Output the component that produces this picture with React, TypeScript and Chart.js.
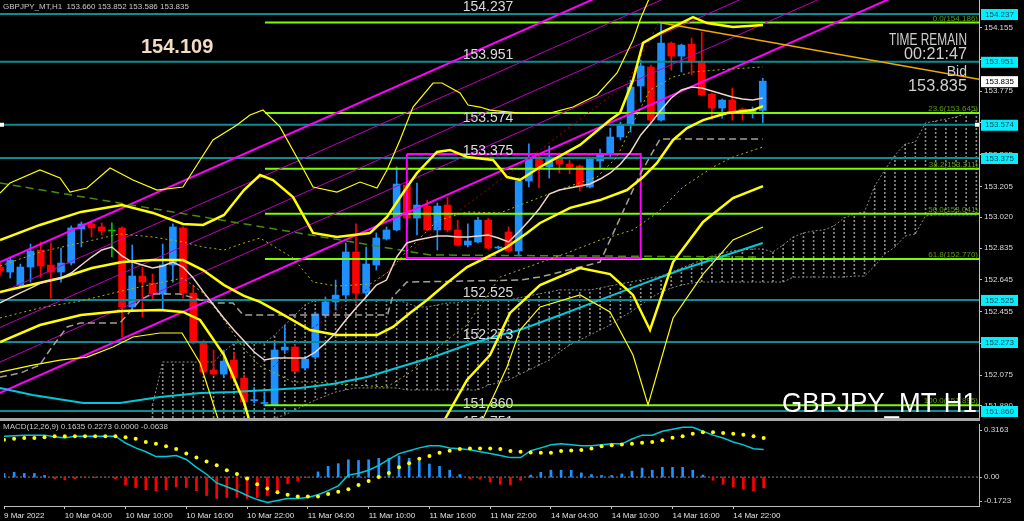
import React, { useEffect, useRef } from "react";
import { Chart, registerables } from "chart.js";

Chart.register(...registerables);
Chart.defaults.font.family = '"Liberation Sans", Arial, sans-serif';

// ---------- axis data ----------
const xTickIndex = [0, 6, 12, 18, 24, 30, 36, 42, 48, 54, 60, 66, 72];
const xTickLabels = [
  "9 Mar 2022", "10 Mar 04:00", "10 Mar 10:00", "10 Mar 16:00", "10 Mar 22:00",
  "11 Mar 04:00", "11 Mar 10:00", "11 Mar 16:00", "11 Mar 22:00",
  "14 Mar 04:00", "14 Mar 10:00", "14 Mar 16:00", "14 Mar 22:00",
];
const priceTicks = [154.155, 153.965, 153.775, 153.585, 153.395, 153.205, 153.02, 152.835, 152.645, 152.455, 152.265, 152.075, 151.89];
const X_MIN = 0;
const X_MAX = 96.26;
const Y_MIN = 151.818;
const Y_MAX = 154.321;

// ---------- candles (H1) ----------
const opens = [152.722,152.692,152.614,152.722,152.824,152.734,152.692,152.746,152.950,152.980,152.962,152.938,152.956,152.483,152.668,152.626,152.560,152.734,152.956,152.566,152.267,152.105,152.081,152.165,152.057,151.922,151.905,151.896,152.225,152.243,152.117,152.183,152.435,152.513,152.554,152.812,152.566,152.734,152.890,152.944,153.213,153.015,153.087,152.944,153.093,152.944,152.854,152.872,153.003,152.836,152.932,152.818,153.237,153.369,153.321,153.375,153.339,153.327,153.201,153.357,153.399,153.501,153.572,153.806,153.920,153.602,154.063,153.985,154.057,153.950,153.758,153.674,153.722,153.668,153.650,153.660];
const highs = [152.746,152.782,152.740,152.860,152.872,152.866,152.836,152.968,152.992,152.992,152.986,152.986,152.962,152.854,152.722,152.680,152.860,152.980,152.962,152.614,152.285,152.225,152.225,152.213,152.075,152.000,151.968,152.267,152.369,152.255,152.189,152.453,152.543,152.644,152.866,152.980,152.842,152.926,152.962,153.321,153.225,153.225,153.123,153.105,153.141,153.003,152.980,153.021,153.015,152.848,152.962,153.255,153.459,153.393,153.447,153.405,153.363,153.333,153.375,153.429,153.554,153.590,153.842,153.962,153.932,154.183,154.069,154.057,154.093,154.129,153.764,153.728,153.794,153.674,153.680,153.852];
const lows = [152.674,152.656,152.602,152.632,152.662,152.536,152.632,152.734,152.842,152.902,152.914,152.782,152.303,152.471,152.423,152.524,152.465,152.632,152.536,152.261,152.081,152.075,152.063,152.045,151.908,151.908,151.890,151.895,152.213,152.093,152.105,152.171,152.423,152.465,152.524,152.506,152.543,152.704,152.884,152.938,152.962,152.914,152.938,152.824,152.932,152.848,152.842,152.866,152.830,152.830,152.812,152.788,153.201,153.195,153.255,153.285,153.279,153.177,153.195,153.315,153.381,153.483,153.530,153.710,153.584,153.596,153.902,153.890,153.872,153.746,153.608,153.614,153.602,153.602,153.614,153.586];
const closes = [152.698,152.764,152.722,152.818,152.728,152.692,152.746,152.956,152.980,152.956,152.938,152.938,152.483,152.668,152.632,152.560,152.734,152.962,152.566,152.267,152.093,152.081,152.159,152.057,151.914,151.928,151.911,152.225,152.243,152.099,152.171,152.441,152.513,152.554,152.812,152.566,152.740,152.896,152.944,153.219,153.015,153.093,152.944,153.087,152.944,152.854,152.878,153.003,152.836,152.842,152.818,153.237,153.375,153.321,153.381,153.339,153.321,153.201,153.369,153.399,153.501,153.572,153.800,153.926,153.602,154.063,153.985,154.051,153.950,153.752,153.674,153.722,153.656,153.656,153.662,153.835];

// ---------- indicator lines ----------
const fastMA = [152.507,152.537,152.567,152.596,152.626,152.644,152.656,152.686,152.734,152.782,152.824,152.842,152.788,152.752,152.734,152.716,152.728,152.752,152.722,152.656,152.573,152.495,152.417,152.345,152.279,152.213,152.165,152.177,152.177,152.177,152.177,152.213,152.267,152.327,152.405,152.477,152.543,152.614,152.644,152.782,152.866,152.884,152.896,152.908,152.908,152.902,152.902,152.908,152.914,152.896,152.872,152.932,152.998,153.069,153.159,153.183,153.195,153.207,153.219,153.249,153.285,153.339,153.411,153.513,153.584,153.662,153.734,153.782,153.800,153.794,153.776,153.758,153.740,153.728,153.722,153.734];
const slowMA: number[][] = [[0,151.998],[3.2,151.956],[8.2,151.908],[11.8,151.908],[15.7,151.944],[19.7,151.968],[22.9,151.974],[26.3,151.986],[29.5,151.998],[32.7,152.022],[36.1,152.064],[39.3,152.123],[42.6,152.183],[45.9,152.255],[49.2,152.315],[51.1,152.345],[55.1,152.435],[59,152.525],[62.9,152.615],[66.9,152.704],[70.8,152.782],[75,152.866]];
const kijun: number[][] = [[0,152.063],[2,152.087],[3.9,152.135],[4.9,152.225],[6.6,152.363],[7.9,152.387],[11.8,152.387],[13.8,152.525],[14.9,152.561],[17.7,152.561],[19.7,152.525],[20.9,152.507],[22.9,152.507],[23.9,152.435],[38.1,152.435],[38.6,152.543],[40,152.632],[51.1,152.644],[53.1,152.662],[59,152.752],[62.9,153.273],[64.9,153.489],[75,153.489]];
const greenDashMA: number[][] = [[0,153.225],[42.3,152.794],[74.7,152.782]];
const redDotLine: number[][] = [[26.84,152.123],[30.48,152.345],[36.38,152.602],[43.95,153.004],[53.1,153.423],[61.65,153.824],[64.9,154.201]];

// Bollinger bands (period 20; +-1, +-2, +-3 deviations)
const bbUpper3: number[][] = [[0,153.165],[0.98,153.225],[3.93,153.303],[5.9,153.255],[6.88,153.171],[8.55,153.195],[10.82,153.315],[13.08,153.243],[15.44,153.183],[17.99,153.201],[19.67,153.363],[20.94,153.483],[23.3,153.573],[24.58,153.632],[25.86,153.662],[27.53,153.561],[29.5,153.345],[30.78,153.201],[33.14,153.171],[35.4,153.231],[37.07,153.195],[38.05,153.303],[39.33,153.483],[40.61,153.68],[42.58,153.824],[43.46,153.824],[45.23,153.764],[46.02,153.692],[47.2,153.68],[48.18,153.662],[51.13,153.644],[54.08,153.644],[56.34,153.68],[58.7,153.752],[60.67,153.884],[62.24,154.081],[62.93,154.201],[64.6,154.441]];
const bbUpper2: number[][] = [[0,152.884],[3.93,152.974],[7.96,153.052],[12,153.093],[15.04,153.046],[17.99,152.98],[19.96,152.974],[22.03,153.034],[23.99,153.183],[25.57,153.273],[26.84,153.243],[28.81,153.141],[30.78,152.926],[33.14,152.902],[36.38,152.926],[38.05,153.022],[40.02,153.201],[41,153.285],[42.97,153.411],[44.25,153.423],[45.92,153.381],[48.48,153.363],[49.85,153.261],[51.13,153.243],[53.1,153.321],[57.03,153.453],[59.98,153.602],[60.96,153.644],[62.24,153.842],[63.23,154.064],[64.9,154.123],[66.57,154.171],[68.14,154.219],[69.52,154.183],[72.07,154.159],[75.02,154.171]];
const bbUpper1: number[][] = [[0,152.728],[3.93,152.812],[7.87,152.866],[11.8,152.92],[15.04,152.902],[17.99,152.872],[19.96,152.842],[22.03,152.824],[23.99,152.866],[25.57,152.896],[28.81,152.776],[30.78,152.632],[33.14,152.608],[36.38,152.62],[38.05,152.686],[40.02,152.818],[42.97,152.998],[45.92,153.052],[49.16,153.046],[52.41,153.123],[55.75,153.201],[58.7,153.261],[60.67,153.381],[62.24,153.585],[63.91,153.782],[66.18,153.86],[68.14,153.89],[70.5,153.902],[75.02,153.92]];
const bbMid: number[][] = [[0,152.573],[2.95,152.614],[6,152.656],[9.05,152.716],[12,152.752],[15.04,152.764],[17.99,152.764],[19.96,152.704],[22.03,152.614],[23.99,152.549],[25.57,152.513],[27.53,152.447],[30.48,152.345],[33.14,152.315],[37.07,152.315],[38.64,152.363],[40.31,152.447],[41.99,152.525],[43.95,152.626],[45.92,152.722],[47.89,152.782],[49.85,152.842],[51.82,152.926],[53.1,152.986],[56.05,153.076],[59,153.123],[61.65,153.183],[63.23,153.261],[64.6,153.345],[66.18,153.483],[67.55,153.554],[69.13,153.602],[71.49,153.644],[74.04,153.662],[75.02,153.686]];
const bbLower1: number[][] = [[0,152.417],[3.93,152.477],[7.96,152.519],[12,152.579],[15.04,152.62],[17.99,152.656],[19.96,152.567],[22.03,152.405],[23.99,152.231],[25.57,152.129],[28.81,152.034],[30.78,152.034],[33.14,152.022],[36.38,152.01],[38.05,152.004],[40.31,152.09],[43.95,152.285],[45.92,152.375],[49.16,152.662],[55.75,152.806],[59,152.884],[62.24,152.944],[64.6,153.046],[67.16,153.201],[70.11,153.321],[72.07,153.381],[75.02,153.441]];
const bbLower2: number[][] = [[0,152.273],[3.93,152.375],[7.96,152.435],[12,152.459],[15.73,152.465],[17.99,152.453],[19.67,152.405],[22.03,152.195],[23.99,151.914],[24.78,151.746],[29.5,151.447],[41.3,151.447],[43.26,151.758],[45.92,152.046],[48.18,152.195],[50.15,152.447],[53.1,152.614],[57.03,152.716],[59.98,152.68],[62.24,152.555],[63.91,152.345],[66.18,152.752],[69.13,152.992],[72.07,153.135],[75.02,153.207]];
const bbLower3: number[][] = [[0,152.093],[3.24,152.135],[5.9,152.165],[8.55,152.183],[11.11,152.243],[13.08,152.303],[15.73,152.327],[17.9,152.327],[19.67,152.147],[21.63,151.776],[25.57,151.207],[45.23,151.207],[47.2,151.776],[49.85,152.123],[51.13,152.345],[53.1,152.483],[57.03,152.555],[59.98,152.453],[62.24,152.195],[63.72,151.896],[66.18,152.417],[69.13,152.68],[72.07,152.884],[75.02,152.962]];

// Ichimoku cloud (starts at bar 15, projected ahead)
const cloudStart = 15;
const cloudTop = [151.896,152.153,152.153,152.153,152.153,152.153,152.153,152.213,152.267,152.267,152.267,152.267,152.315,152.375,152.435,152.495,152.525,152.525,152.525,152.525,152.525,152.525,152.525,152.525,152.525,152.507,152.483,152.483,152.495,152.507,152.507,152.525,152.525,152.525,152.525,152.525,152.537,152.549,152.561,152.573,152.585,152.585,152.585,152.585,152.597,152.609,152.621,152.632,152.644,152.656,152.668,152.692,152.716,152.740,152.764,152.788,152.806,152.818,152.824,152.830,152.830,152.812,152.854,152.902,152.926,152.938,152.944,152.968,153.016,153.040,153.052,153.207,153.303,153.393,153.459,153.471,153.585,153.596,153.608,153.620,153.644,153.662];
const cloudBottom = [151.806,151.806,151.806,151.806,151.806,151.806,151.806,151.806,151.806,151.806,151.806,151.806,151.818,151.836,151.866,151.896,151.926,151.950,151.974,151.986,151.998,151.998,151.998,151.998,151.998,151.986,151.986,151.986,151.986,151.986,151.986,151.986,151.986,152.016,152.028,152.046,152.076,152.105,152.135,152.165,152.213,152.255,152.285,152.315,152.345,152.375,152.417,152.453,152.495,152.537,152.573,152.596,152.614,152.626,152.632,152.632,152.632,152.632,152.632,152.632,152.632,152.632,152.632,152.662,152.662,152.662,152.662,152.662,152.662,152.668,152.668,152.728,152.800,152.842,152.908,152.920,153.028,153.034,153.034,153.034,153.034,153.034];

// Horizontal levels and drawn objects
const hLevels = [154.237, 153.951, 153.574, 153.375, 152.525, 152.273, 151.86, 151.751];
const selectedLevel = 153.574;
const fibLevels = [154.186, 153.645, 153.311, 153.041, 152.77, 151.895];
const fibNames = ["0.0", "23.6", "38.2", "50.0", "61.8", "100.0"];
const fibStartIdx = 26.05;
const channelThick: number[][][] = [
  [[0, 152.752], [96.26, 155.349]],
  [[0, 151.968], [96.26, 154.565]],
];
const channelThin: number[][][] = [
  [[0, 152.567], [96.26, 155.164]],
  [[0, 152.36], [96.26, 154.957]],
  [[0, 152.153], [96.26, 154.75]],
];
const orangeLine: number[][] = [[65.1, 154.183], [96.26, 153.846]];
const boxRect: number[][] = [[40, 153.399], [63, 153.399], [63, 152.776], [40, 152.776], [40, 153.399]];
const bidPrice = 153.835;
const dayHighLabel = "154.109";
const headerText = "GBPJPY_MT,H1  153.660 153.852 153.586 153.835";

// ---------- MACD ----------
const macdLine = [0.244,0.247,0.250,0.250,0.250,0.241,0.233,0.244,0.244,0.244,0.244,0.244,0.203,0.174,0.151,0.122,0.122,0.128,0.105,0.058,0.017,-0.035,-0.058,-0.081,-0.110,-0.134,-0.151,-0.140,-0.128,-0.128,-0.122,-0.105,-0.081,-0.052,0.012,0.023,0.041,0.070,0.105,0.140,0.157,0.174,0.186,0.186,0.174,0.169,0.163,0.151,0.140,0.128,0.116,0.116,0.157,0.174,0.192,0.198,0.192,0.186,0.186,0.192,0.198,0.198,0.227,0.250,0.250,0.273,0.285,0.297,0.297,0.273,0.250,0.233,0.209,0.192,0.169,0.164];
const macdSignal = [0.223,0.228,0.233,0.233,0.238,0.244,0.244,0.244,0.244,0.244,0.244,0.244,0.238,0.228,0.209,0.199,0.184,0.167,0.141,0.116,0.093,0.070,0.041,0.019,-0.008,-0.042,-0.068,-0.091,-0.106,-0.116,-0.116,-0.116,-0.101,-0.087,-0.072,-0.047,-0.023,0.000,0.025,0.058,0.083,0.109,0.126,0.145,0.157,0.167,0.170,0.170,0.170,0.167,0.155,0.151,0.147,0.145,0.145,0.155,0.159,0.161,0.170,0.184,0.190,0.194,0.199,0.205,0.209,0.219,0.234,0.244,0.258,0.267,0.267,0.263,0.258,0.252,0.244,0.233];
const macdHist = [0.022,0.029,0.022,0.022,0.010,-0.010,-0.017,-0.010,-0.003,-0.003,-0.003,-0.010,-0.047,-0.062,-0.076,-0.081,-0.076,-0.058,-0.062,-0.081,-0.110,-0.128,-0.122,-0.122,-0.128,-0.122,-0.110,-0.081,-0.039,-0.023,-0.003,0.031,0.064,0.080,0.103,0.099,0.103,0.112,0.112,0.126,0.112,0.097,0.078,0.064,0.041,0.015,-0.010,-0.012,-0.029,-0.043,-0.047,-0.019,0.012,0.029,0.041,0.041,0.041,0.025,0.015,0.010,0.010,0.019,0.035,0.054,0.041,0.058,0.058,0.058,0.041,0.012,-0.019,-0.043,-0.058,-0.072,-0.081,-0.064];
const macdMax = 0.3163;
const macdMin = -0.1723;
const macdTitle = "MACD(12,26,9) 0.1635 0.2273 0.0000 -0.0638";

// ---------- colours ----------
const COL = {
  bull: "#1e90ff",
  bear: "#ff0000",
  doji: "#00c000",
  teal: "#0a8e94",
  fib: "#7cfc00",
  fibText: "#5c9c10",
  magenta: "#ff00ff",
  magentaThin: "#c000c0",
  yellow: "#ffff00",
  olive: "#b4b400",
  fastMA: "#f0d6c8",
  slowMA: "#00c8d8",
  kijun: "#a89f96",
  cloud: "#8a8a8a",
  greenDash: "#4a8a10",
  redDot: "#b00000",
  orange: "#f0a800",
  axis: "#c0c0c0",
  axisText: "#d8d8d8",
};
const FONT = '"Liberation Sans", Arial, sans-serif';

const pts = (arr: number[][]) => arr.map(([x, y]) => ({ x, y }));

function lineDs(data: any[], color: string, width: number, order: number, extra: any = {}) {
  return {
    type: "line",
    data,
    borderColor: color,
    borderWidth: width,
    pointRadius: 0,
    tension: 0,
    fill: false,
    order,
    ...extra,
  };
}

function makeHatch(): any {
  const pc = document.createElement("canvas");
  pc.width = 1;
  pc.height = 4;
  const p = pc.getContext("2d")!;
  p.fillStyle = COL.cloud;
  p.fillRect(0, 0, 1, 2);
  return p.createPattern(pc, "repeat");
}

const mainDecor = {
  id: "mainDecor",
  afterDraw(chart: any) {
    const { ctx, chartArea: ca } = chart;
    const xs = chart.scales.x;
    const ys = chart.scales.y;
    ctx.save();
    // header
    ctx.textAlign = "left";
    ctx.textBaseline = "middle";
    ctx.font = `8px ${FONT}`;
    ctx.fillStyle = "#c8c8c8";
    ctx.fillText(headerText, 3, 7);
    // high label
    ctx.textBaseline = "alphabetic";
    ctx.font = `bold 20px ${FONT}`;
    ctx.fillStyle = "#f2dcc2";
    ctx.fillText(dayHighLabel, 141, 53);
    // level labels
    ctx.font = `14px ${FONT}`;
    ctx.fillStyle = "#dadada";
    const lx = xs.getPixelForValue(45.5);
    hLevels.forEach((l) => {
      ctx.fillText(l.toFixed(3), lx, ys.getPixelForValue(l) - 3);
    });
    // selected-object markers
    const sy = ys.getPixelForValue(selectedLevel);
    ctx.fillStyle = "#ffffff";
    ctx.fillRect(0, sy - 2, 4, 4);
    ctx.fillRect(ca.right - 4, sy - 2, 4, 4);
    // fib labels
    ctx.font = `8px ${FONT}`;
    ctx.fillStyle = COL.fibText;
    ctx.textAlign = "right";
    fibLevels.forEach((l, i) => {
      ctx.fillText(`${fibNames[i]}(${l.toFixed(3)})`, ca.right - 1, ys.getPixelForValue(l) - 2);
    });
    // time remain block
    ctx.fillStyle = "#cfcfcf";
    ctx.font = `16px ${FONT}`;
    ctx.fillText("TIME REMAIN", 967, 45, 78);
    ctx.font = `17px ${FONT}`;
    ctx.fillText("00:21:47", 967, 59, 63);
    ctx.font = `14px ${FONT}`;
    ctx.fillText("Bid", 967, 76);
    ctx.font = `17px ${FONT}`;
    ctx.fillText(bidPrice.toFixed(3), 967, 91, 59);
    // watermark
    ctx.fillStyle = "#ffffff";
    ctx.font = `28px ${FONT}`;
    ctx.fillText("GBPJPY_MT H1", 977, 412, 195);
    // right-axis price boxes
    ctx.textAlign = "left";
    ctx.textBaseline = "middle";
    ctx.font = `8px ${FONT}`;
    hLevels.forEach((l) => {
      const py = ys.getPixelForValue(l);
      ctx.fillStyle = "#00f0ff";
      ctx.fillRect(981, py - 5, 37, 11);
      ctx.fillStyle = "#1a4a5a";
      ctx.fillText(l.toFixed(3), 985, py + 0.5);
    });
    const by = ys.getPixelForValue(bidPrice);
    ctx.fillStyle = "#ffffff";
    ctx.fillRect(981, by - 5, 37, 11);
    ctx.fillStyle = "#000000";
    ctx.fillText(bidPrice.toFixed(3), 985, by + 0.5);
    // separator bar between windows
    ctx.fillStyle = "#a8a8a8";
    ctx.fillRect(0, ca.bottom, ca.right + 1, 2);
    ctx.restore();
  },
};

const macdDecor = {
  id: "macdDecor",
  afterDraw(chart: any) {
    const { ctx, chartArea: ca } = chart;
    const ys = chart.scales.y;
    ctx.save();
    ctx.fillStyle = "#a8a8a8";
    ctx.fillRect(0, 0, ca.right + 1, 1);
    ctx.font = `8px ${FONT}`;
    ctx.textBaseline = "middle";
    ctx.textAlign = "left";
    ctx.fillStyle = "#c8c8c8";
    ctx.fillText(macdTitle, 3, 7);
    const labels: [number, string, number][] = [
      [macdMax, macdMax.toFixed(4), 6],
      [0, "0.00", 0],
      [macdMin, macdMin.toFixed(4), -5],
    ];
    labels.forEach(([v, t, off]) => {
      const py = ys.getPixelForValue(v) + off;
      ctx.strokeStyle = COL.axis;
      ctx.beginPath();
      ctx.moveTo(ca.right, py + 0.5);
      ctx.lineTo(ca.right + 3, py + 0.5);
      ctx.stroke();
      ctx.fillStyle = COL.axisText;
      ctx.fillText(t, 984, py);
    });
    ctx.restore();
  },
};

function mainConfig(): any {
  const candleColors = opens.map((o, i) => (closes[i] > o ? COL.bull : closes[i] < o ? COL.bear : COL.doji));
  const hatch = makeHatch();
  const datasets: any[] = [];

  datasets.push({
    type: "bar",
    data: cloudTop.map((t, i) => ({ x: cloudStart + i, y: [cloudBottom[i], t] })),
    backgroundColor: hatch,
    barThickness: 1,
    grouped: false,
    order: 100,
  });
  datasets.push(lineDs(cloudTop.map((v, i) => ({ x: cloudStart + i, y: v })), COL.cloud, 1, 99, { borderDash: [2, 2] }));
  datasets.push(lineDs(cloudBottom.map((v, i) => ({ x: cloudStart + i, y: v })), COL.cloud, 1, 99, { borderDash: [2, 2] }));

  datasets.push({
    type: "bar",
    data: lows.map((l, i) => ({ x: i, y: [l, highs[i]] })),
    backgroundColor: candleColors,
    barThickness: 1,
    grouped: false,
    order: 81,
  });
  datasets.push({
    type: "bar",
    data: opens.map((o, i) => ({ x: i, y: [o, closes[i]] })),
    backgroundColor: candleColors,
    barThickness: 7,
    minBarLength: 1,
    grouped: false,
    order: 80,
  });

  hLevels.forEach((l) => datasets.push(lineDs([{ x: X_MIN, y: l }, { x: X_MAX, y: l }], COL.teal, 2, 70)));
  fibLevels.forEach((l) => datasets.push(lineDs([{ x: fibStartIdx, y: l }, { x: X_MAX, y: l }], COL.fib, 2, 69)));

  channelThin.forEach((c) => datasets.push(lineDs(pts(c), COL.magentaThin, 1, 68)));
  channelThick.forEach((c) => datasets.push(lineDs(pts(c), COL.magenta, 2, 67)));
  datasets.push(lineDs(pts(orangeLine), COL.orange, 1.5, 66));
  datasets.push(lineDs(pts(boxRect), COL.magenta, 2, 65));

  datasets.push(lineDs(pts(greenDashMA), COL.greenDash, 1.5, 60, { borderDash: [8, 5] }));
  datasets.push(lineDs(pts(kijun), COL.kijun, 1.5, 59, { borderDash: [7, 4] }));
  datasets.push(lineDs(pts(redDotLine), COL.redDot, 1, 58, { borderDash: [2, 3] }));
  datasets.push(lineDs(pts(slowMA), COL.slowMA, 2, 55));

  datasets.push(lineDs(pts(bbUpper1), COL.olive, 1, 52, { borderDash: [2, 3] }));
  datasets.push(lineDs(pts(bbLower1), COL.olive, 1, 52, { borderDash: [2, 3] }));
  datasets.push(lineDs(pts(bbUpper3), COL.yellow, 1.2, 50));
  datasets.push(lineDs(pts(bbLower3), COL.yellow, 1.2, 50));
  datasets.push(lineDs(pts(bbUpper2), COL.yellow, 2.5, 49));
  datasets.push(lineDs(pts(bbLower2), COL.yellow, 2.5, 49));
  datasets.push(lineDs(pts(bbMid), COL.yellow, 2.5, 49));

  datasets.push(lineDs(fastMA.map((v, i) => ({ x: i, y: v })), COL.fastMA, 1.5, 40));

  return {
    type: "bar",
    data: { datasets },
    options: {
      animation: false,
      responsive: false,
      maintainAspectRatio: false,
      devicePixelRatio: 1,
      layout: { padding: { top: 0, left: 0, right: 0, bottom: 2 } },
      plugins: { legend: { display: false }, tooltip: { enabled: false } },
      scales: {
        x: { type: "linear", min: X_MIN, max: X_MAX, display: false, offset: false },
        y: {
          type: "linear",
          position: "right",
          min: Y_MIN,
          max: Y_MAX,
          afterBuildTicks: (s: any) => {
            s.ticks = priceTicks.map((v) => ({ value: v }));
          },
          afterFit: (s: any) => {
            s.width = 45;
            s.paddingTop = 0;
            s.paddingBottom = 0;
          },
          ticks: {
            color: COL.axisText,
            font: { size: 8 },
            padding: 2,
            autoSkip: false,
            callback: (v: any) => Number(v).toFixed(3),
          },
          grid: { drawOnChartArea: false, drawTicks: true, tickLength: 3, color: COL.axis },
          border: { display: true, color: COL.axis },
        },
      },
    },
    plugins: [mainDecor],
  };
}

function macdConfig(): any {
  const histColors = macdHist.map((v) => (v >= 0 ? COL.bull : COL.bear));
  const datasets: any[] = [
    lineDs([{ x: X_MIN, y: 0 }, { x: X_MAX, y: 0 }], "#8a8a8a", 1, 30, { borderDash: [2, 2] }),
    {
      type: "bar",
      data: macdHist.map((v, i) => ({ x: i, y: v })),
      backgroundColor: histColors,
      barThickness: 2,
      grouped: false,
      order: 20,
    },
    lineDs(macdLine.map((v, i) => ({ x: i, y: v })), COL.slowMA, 1.5, 10),
    {
      type: "line",
      data: macdSignal.map((v, i) => ({ x: i, y: v })),
      showLine: false,
      pointRadius: 2,
      pointBackgroundColor: COL.yellow,
      pointBorderWidth: 0,
      borderColor: COL.yellow,
      order: 5,
    },
  ];
  return {
    type: "bar",
    data: { datasets },
    options: {
      animation: false,
      responsive: false,
      maintainAspectRatio: false,
      devicePixelRatio: 1,
      layout: { padding: 0 },
      plugins: { legend: { display: false }, tooltip: { enabled: false } },
      scales: {
        x: {
          type: "linear",
          min: X_MIN,
          max: X_MAX,
          offset: false,
          position: "bottom",
          afterBuildTicks: (s: any) => {
            s.ticks = xTickIndex.map((v) => ({ value: v }));
          },
          afterFit: (s: any) => {
            s.height = 15;
            s.paddingLeft = 0;
            s.paddingRight = 0;
          },
          ticks: {
            color: "#e0e0e0",
            font: { size: 8 },
            align: "start",
            padding: 2,
            maxRotation: 0,
            minRotation: 0,
            autoSkip: false,
            callback: (v: any) => {
              const k = xTickIndex.indexOf(Number(v));
              return k >= 0 ? xTickLabels[k] : "";
            },
          },
          grid: { drawOnChartArea: false, drawTicks: true, tickLength: 3, color: COL.axis, offset: false },
          border: { display: true, color: COL.axis },
        },
        y: {
          type: "linear",
          position: "right",
          min: macdMin,
          max: macdMax,
          ticks: { display: false },
          grid: { display: false },
          border: { display: true, color: COL.axis },
          afterFit: (s: any) => {
            s.width = 45;
            s.paddingTop = 0;
            s.paddingBottom = 0;
          },
        },
      },
    },
    plugins: [macdDecor],
  };
}

export default function App() {
  const mainRef = useRef<HTMLCanvasElement>(null);
  const macdRef = useRef<HTMLCanvasElement>(null);
  useEffect(() => {
    const c1 = new Chart(mainRef.current as HTMLCanvasElement, mainConfig());
    const c2 = new Chart(macdRef.current as HTMLCanvasElement, macdConfig());
    return () => {
      c1.destroy();
      c2.destroy();
    };
  }, []);
  return (
    <div style={{ position: "fixed", left: 0, top: 0, width: 1024, height: 521, background: "#000", overflow: "hidden" }}>
      <canvas ref={mainRef} width={1024} height={420} style={{ position: "absolute", left: 0, top: 0, width: 1024, height: 420 }} />
      <canvas ref={macdRef} width={1024} height={101} style={{ position: "absolute", left: 0, top: 420, width: 1024, height: 101 }} />
    </div>
  );
}
